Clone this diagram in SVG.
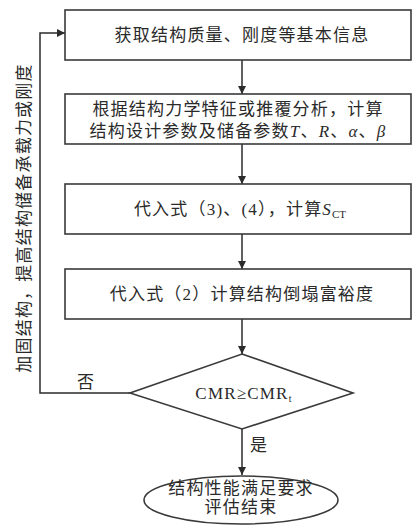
<svg xmlns="http://www.w3.org/2000/svg" width="414" height="526" viewBox="0 0 414 526">
<defs>
<marker id="ah" markerWidth="8" markerHeight="10" refX="8" refY="4" orient="auto" markerUnits="userSpaceOnUse">
<path d="M0,0 L8,4 L0,8 z" fill="#2b2b2b"/>
</marker>
<style>
.box{fill:#fff;stroke:#3a3a3a;stroke-width:1.6}
.ln{fill:none;stroke:#2b2b2b;stroke-width:1.5}
.t{font-family:"Liberation Serif","Noto Sans CJK SC",serif;font-size:17px;fill:#2a2a2a;text-anchor:middle;letter-spacing:1.2px}
.it{font-style:italic}
</style>
</defs>
<rect width="414" height="526" fill="#fff"/>
<g id="connectors">
<line class="ln" x1="242" y1="60" x2="242" y2="94" marker-end="url(#ah)"/>
<line class="ln" x1="242" y1="144" x2="242" y2="184" marker-end="url(#ah)"/>
<line class="ln" x1="242" y1="234" x2="242" y2="269" marker-end="url(#ah)"/>
<line class="ln" x1="242" y1="319" x2="242" y2="354" marker-end="url(#ah)"/>
<line class="ln" x1="242" y1="429" x2="242" y2="475" marker-end="url(#ah)"/>
<polyline class="ln" points="130,393 40,393 40,33 65,33" marker-end="url(#ah)"/>
<text class="t" x="86" y="388">否</text>
<text class="t" x="259" y="451">是</text>
<text class="t" transform="translate(30,218) rotate(-90)">加固结构，提高结构储备承载力或刚度</text>
</g>
<g id="n1">
<rect class="box" x="65" y="10" width="346" height="50"/>
<text class="t" x="242" y="41">获取结构质量、刚度等基本信息</text>
</g>
<g id="n2">
<rect class="box" x="65" y="94" width="346" height="50"/>
<text class="t" x="238" y="115">根据结构力学特征或推覆分析，计算</text>
<text class="t" x="238" y="137">结构设计参数及储备参数<tspan class="it">T</tspan>、<tspan class="it">R</tspan>、<tspan class="it">α</tspan>、<tspan class="it">β</tspan></text>
</g>
<g id="n3">
<rect class="box" x="65" y="184" width="346" height="50"/>
<text class="t" x="240" y="215">代入式（3)、(4），计算<tspan class="it">S</tspan><tspan font-size="11" dy="3" letter-spacing="0">CT</tspan></text>
</g>
<g id="n4">
<rect class="box" x="65" y="269" width="346" height="50"/>
<text class="t" x="242" y="300">代入式（2）计算结构倒塌富裕度</text>
</g>
<g id="n5">
<polygon class="box" points="242,354 353,393 242,429 130,393"/>
<text class="t" x="244" y="399" letter-spacing="0">CMR≥CMR<tspan font-size="10" dy="3">t</tspan></text>
</g>
<g id="n6">
<ellipse class="box" cx="241" cy="500" rx="97" ry="24"/>
<text class="t" x="241" y="494">结构性能满足要求</text>
<text class="t" x="241" y="513">评估结束</text>
</g>
</svg>
